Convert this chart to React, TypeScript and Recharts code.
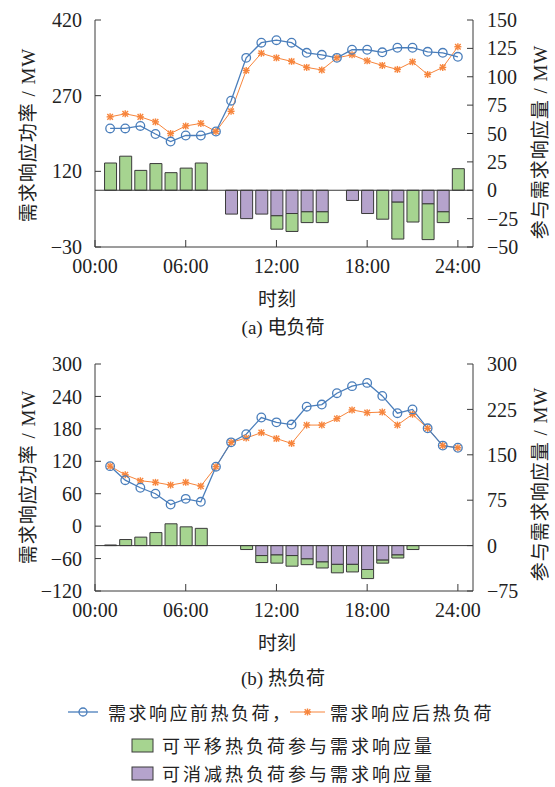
import React from 'react'
import { Bar, ComposedChart, Line, ReferenceLine, XAxis, YAxis } from 'recharts'

const hours = [1, 2, 3, 4, 5, 6, 7, 8, 9, 10, 11, 12, 13, 14, 15, 16, 17, 18, 19, 20, 21, 22, 23, 24]

// (a) electric load
const elecBefore = [205, 205, 210, 194, 179, 191, 191, 199, 260, 345, 375, 380, 375, 355, 351, 345, 361, 361, 356, 365, 365, 357, 355, 347]
const elecAfter = [228, 234, 228, 218, 195, 210, 215, 199, 239, 320, 354, 345, 338, 326, 321, 345, 351, 339, 330, 322, 337, 312, 326, 367]
const elecShift = [24, 30, 17.5, 23.5, 15.5, 19.5, 24, 0, 0, 0, 0, -11.8, -15.8, -9.5, -9.5, 0, 0, 0, -25.5, -32.5, -28, -31.5, -9.5, 19]
const elecCut = [0, 0, 0, 0, 0, 0, 0, 0, -21, -25, -21, -22.5, -20.5, -19, -19, 0, -9, -20.5, 0, -10.5, 0, -12, -19, 0]

// (b) heat load
const heatBefore = [111, 85, 71, 60, 40, 50.5, 45, 110, 155, 170, 201, 192, 188, 221, 225, 246, 259, 265, 241, 209, 216, 181, 149, 145]
const heatAfter = [111, 95, 84, 81, 76, 81, 74, 110, 155, 163, 173, 162, 153, 187, 187, 199, 215, 210, 211, 187, 207, 181, 149, 145]
const heatShift = [1, 10, 14, 21.5, 36, 31, 28.5, 0, 0, -6.5, -11.5, -13.5, -17.5, -9.5, -10, -14, -12.5, -15, -5, -5, -6.5, 0, 0, 0]
const heatCut = [0, 0, 0, 0, 0, 0, 0, 0, 0, 0, -16.5, -15.5, -16.5, -22, -27, -31, -31, -39.5, -24, -15.5, 0, 0, 0, 0]

const xTicks = [0, 6, 12, 18, 24]
const elecLeftTicks = [-30, 120, 270, 420]
const elecRightTicks = [-50, -25, 0, 25, 50, 75, 100, 125, 150]
const heatLeftTicks = [-120, -60, 0, 60, 120, 180, 240, 300]
const heatRightTicks = [-75, 0, 75, 150, 225, 300]

const BLUE = '#4a7ebb'
const ORANGE = '#f7853c'
const GREEN = '#a6d490'
const PURPLE = '#b5a3cc'
const EDGE = '#3a3a3a'
const INK = '#222'
const FONT = '"Liberation Serif", "Noto Sans CJK SC", serif'

const fmtNum = (v: number) => String(v).replace('-', '\u2212')
const fmtHour = (h: number) => `${String(h).padStart(2, '0')}:00`

const BlueDot = (p: any) => (
  <circle key={`b${p.index}`} cx={p.cx} cy={p.cy} r={4.3} fill="none" stroke={BLUE} strokeWidth={1.3} />
)

const OrangeDot = (p: any) => (
  <g key={`o${p.index}`} stroke={ORANGE} strokeWidth={1.4}>
    <line x1={p.cx - 3.5} y1={p.cy} x2={p.cx + 3.5} y2={p.cy} />
    <line x1={p.cx} y1={p.cy - 3.5} x2={p.cx} y2={p.cy + 3.5} />
    <line x1={p.cx - 2.8} y1={p.cy - 2.8} x2={p.cx + 2.8} y2={p.cy + 2.8} />
    <line x1={p.cx - 2.8} y1={p.cy + 2.8} x2={p.cx + 2.8} y2={p.cy - 2.8} />
  </g>
)

const build = (before: number[], after: number[], shift: number[], cut: number[]) =>
  hours.map((h, i) => ({ hour: h, before: before[i], after: after[i], shift: shift[i], cut: cut[i] }))

const tickStyle = { fill: INK, fontSize: 20, fontFamily: FONT }

interface PanelProps {
  data: any[]
  leftTicks: number[]
  rightTicks: number[]
}

const Panel = ({ data, leftTicks, rightTicks }: PanelProps) => (
  <ComposedChart width={555} height={290} data={data} stackOffset="sign" margin={{ top: 20, right: 0, bottom: 0, left: 0 }}>
    <XAxis
      type="number"
      dataKey="hour"
      domain={[0, 25]}
      ticks={xTicks}
      tickFormatter={fmtHour}
      height={43}
      tickSize={-7}
      tickMargin={19}
      stroke={EDGE}
      tick={tickStyle}
      interval={0}
    />
    <YAxis
      yAxisId="left"
      width={95}
      domain={[leftTicks[0], leftTicks[leftTicks.length - 1]]}
      ticks={leftTicks}
      tickFormatter={fmtNum}
      tickSize={-6}
      tickMargin={19}
      stroke={EDGE}
      tick={tickStyle}
      interval={0}
    />
    <YAxis
      yAxisId="right"
      orientation="right"
      width={82}
      domain={[rightTicks[0], rightTicks[rightTicks.length - 1]]}
      ticks={rightTicks}
      tickFormatter={fmtNum}
      tickSize={-6}
      tickMargin={20}
      stroke={EDGE}
      tick={{ ...tickStyle, textAnchor: 'start' }}
      interval={0}
    />
    <Bar yAxisId="right" dataKey="cut" stackId="s" barSize={12} fill={PURPLE} stroke={EDGE} strokeWidth={1} isAnimationActive={false} />
    <Bar yAxisId="right" dataKey="shift" stackId="s" barSize={12} fill={GREEN} stroke={EDGE} strokeWidth={1} isAnimationActive={false} />
    <ReferenceLine yAxisId="right" y={0} stroke={EDGE} strokeWidth={1} />
    <Line yAxisId="left" dataKey="after" stroke={ORANGE} strokeWidth={1} dot={OrangeDot} isAnimationActive={false} />
    <Line yAxisId="left" dataKey="before" stroke={BLUE} strokeWidth={1.3} dot={BlueDot} isAnimationActive={false} />
  </ComposedChart>
)

const abs = (left: number, top: number, extra: React.CSSProperties = {}): React.CSSProperties => ({
  position: 'absolute',
  left,
  top,
  whiteSpace: 'nowrap',
  fontFamily: FONT,
  color: INK,
  ...extra,
})

const VTitle = ({ x, y, text }: { x: number; y: number; text: string }) => (
  <div style={abs(x, y, { fontSize: 19, letterSpacing: 1, transform: 'translate(-50%, -50%) rotate(-90deg)' })}>{text}</div>
)

const CText = ({ x, y, text }: { x: number; y: number; text: string }) => (
  <div style={abs(x, y, { fontSize: 19, transform: 'translate(-50%, -50%)' })}>{text}</div>
)

export default function App() {
  const elecData = build(elecBefore, elecAfter, elecShift, elecCut)
  const heatData = build(heatBefore, heatAfter, heatShift, heatCut)
  return (
    <div style={{ position: 'relative', width: 555, height: 787, background: '#fff', overflow: 'hidden' }}>
      <style>{'body{margin:0}'}</style>
      <div style={{ position: 'absolute', left: 0, top: 0 }}>
        <Panel data={elecData} leftTicks={elecLeftTicks} rightTicks={elecRightTicks} />
      </div>
      <div style={{ position: 'absolute', left: 0, top: 344 }}>
        <Panel data={heatData} leftTicks={heatLeftTicks} rightTicks={heatRightTicks} />
      </div>

      <VTitle x={26} y={135} text="需求响应功率 / MW" />
      <VTitle x={538} y={142} text="参与需求响应量 / MW" />
      <CText x={277} y={297} text="时刻" />
      <CText x={283} y={325} text="(a) 电负荷" />

      <VTitle x={26} y={477} text="需求响应功率 / MW" />
      <VTitle x={538} y={484} text="参与需求响应量 / MW" />
      <CText x={277} y={641} text="时刻" />
      <CText x={283} y={676} text="(b) 热负荷" />

      <svg style={{ position: 'absolute', left: 0, top: 0 }} width={555} height={787}>
        <line x1={68} y1={712} x2={98} y2={712} stroke={BLUE} strokeWidth={1.3} />
        <circle cx={83} cy={712} r={4} fill="none" stroke={BLUE} strokeWidth={1.3} />
        <line x1={290} y1={712} x2={325} y2={712} stroke={ORANGE} strokeWidth={1} />
        <OrangeDot cx={307.5} cy={712} index={0} />
        <rect x={132} y={739} width={21} height={13} fill={GREEN} stroke={EDGE} strokeWidth={1} />
        <rect x={132} y={767} width={21} height={13} fill={PURPLE} stroke={EDGE} strokeWidth={1} />
      </svg>
      <div style={abs(108, 712, { fontSize: 18, letterSpacing: 2.5, transform: 'translateY(-50%)' })}>需求响应前热负荷，</div>
      <div style={abs(330, 712, { fontSize: 18, letterSpacing: 2.5, transform: 'translateY(-50%)' })}>需求响应后热负荷</div>
      <div style={abs(162, 745, { fontSize: 18, letterSpacing: 3, transform: 'translateY(-50%)' })}>可平移热负荷参与需求响应量</div>
      <div style={abs(162, 773, { fontSize: 18, letterSpacing: 3, transform: 'translateY(-50%)' })}>可消减热负荷参与需求响应量</div>
    </div>
  )
}
